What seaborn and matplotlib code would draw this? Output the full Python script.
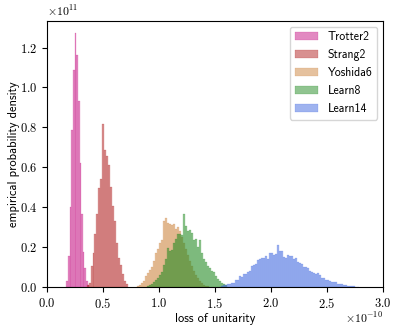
import numpy as np
import matplotlib
matplotlib.use("Agg")
import matplotlib.pyplot as plt
import seaborn as sns

plt.rcParams["font.family"] = "cmr10"
plt.rcParams["mathtext.fontset"] = "cm"
plt.rcParams["axes.formatter.use_mathtext"] = True

methods = ["Trotter2", "Strang2", "Yoshida6", "Learn8", "Learn14"]
colors = ["mediumvioletred", "firebrick", "peru", "forestgreen", "royalblue"]

# left edge of first bin and bin width, in units of 1e-10
bin_starts = [0.173, 0.354, 0.806, 0.893, 1.557]
bin_widths = [0.0147, 0.01743, 0.0179, 0.0179, 0.01786]

# bar heights (density) in units of 1e11, read bin by bin
trotter2 = [0.03, 0.157, 0.40, 0.786, 1.086, 1.271, 1.161, 0.931, 0.622, 0.365,
            0.175, 0.095, 0.03, 0.01]
strang2 = [0.012, 0.02, 0.105, 0.169, 0.265, 0.365, 0.494, 0.539, 0.819, 0.689,
           0.656, 0.611, 0.502, 0.405, 0.332, 0.219, 0.144, 0.109, 0.064, 0.032,
           0.015]
yoshida6 = [0.005, 0.01, 0.018, 0.032, 0.055, 0.072, 0.085, 0.10, 0.132, 0.169,
            0.189, 0.222, 0.235, 0.332, 0.345, 0.319, 0.315, 0.309, 0.315, 0.292,
            0.30, 0.28, 0.25, 0.22, 0.19, 0.16, 0.13, 0.105, 0.08, 0.06,
            0.045, 0.032, 0.02, 0.012, 0.007, 0.003]
learn8 = [0.005, 0.008, 0.015, 0.027, 0.035, 0.045, 0.058, 0.077, 0.109, 0.139,
          0.194, 0.182, 0.185, 0.222, 0.239, 0.265, 0.267, 0.26, 0.365, 0.305,
          0.28, 0.285, 0.272, 0.235, 0.239, 0.2, 0.235, 0.169, 0.139, 0.127,
          0.105, 0.097, 0.082, 0.077, 0.055, 0.04, 0.03, 0.022, 0.016, 0.01]
learn14 = [0.006, 0.008, 0.01, 0.013, 0.017, 0.02, 0.022, 0.035, 0.037, 0.055,
           0.052, 0.063, 0.067, 0.073, 0.082, 0.103, 0.11, 0.113, 0.137, 0.14,
           0.147, 0.147, 0.157, 0.14, 0.172, 0.168, 0.16, 0.165, 0.21, 0.18,
           0.178, 0.15, 0.147, 0.16, 0.157, 0.153, 0.139, 0.145, 0.127, 0.118,
           0.113, 0.102, 0.10, 0.097, 0.08, 0.077, 0.072, 0.067, 0.07, 0.06,
           0.047, 0.047, 0.035, 0.035, 0.03, 0.023, 0.023, 0.023, 0.017, 0.013,
           0.013, 0.01, 0.008, 0.005, 0.005, 0.003, 0.003, 0.002, 0.002]

densities = [trotter2, strang2, yoshida6, learn8, learn14]

fig = plt.figure(figsize=(3.93, 3.27), dpi=100)
ax = fig.add_axes([0.1196, 0.1223, 0.855, 0.8144])

for name, start, width, dens, col in zip(methods, bin_starts, bin_widths, densities, colors):
    dens = np.array(dens) * 1e11
    edges = (start + width * np.arange(len(dens) + 1)) * 1e-10
    centers = (edges[:-1] + edges[1:]) / 2
    sns.histplot(x=centers, weights=dens, bins=edges.tolist(), stat="count",
                 color=col, alpha=0.5, edgecolor=col, linewidth=0.12,
                 label=name, ax=ax)

ax.set_xlim(0, 3e-10)
ax.set_xlabel("loss of unitarity", fontfamily="cmss10", fontsize=9, labelpad=1.5)
ax.set_ylabel("empirical probability density", fontfamily="cmss10", fontsize=9, labelpad=0)
ax.tick_params(labelsize=9)
ax.xaxis.OFFSETTEXTPAD = 0
ax.xaxis.get_offset_text().set_fontsize(8.5)
ax.yaxis.get_offset_text().set_fontsize(8.5)
ax.legend(loc="upper right", prop={"family": "cmss10", "size": 8.5})

fig.savefig("out.png", dpi=100)
